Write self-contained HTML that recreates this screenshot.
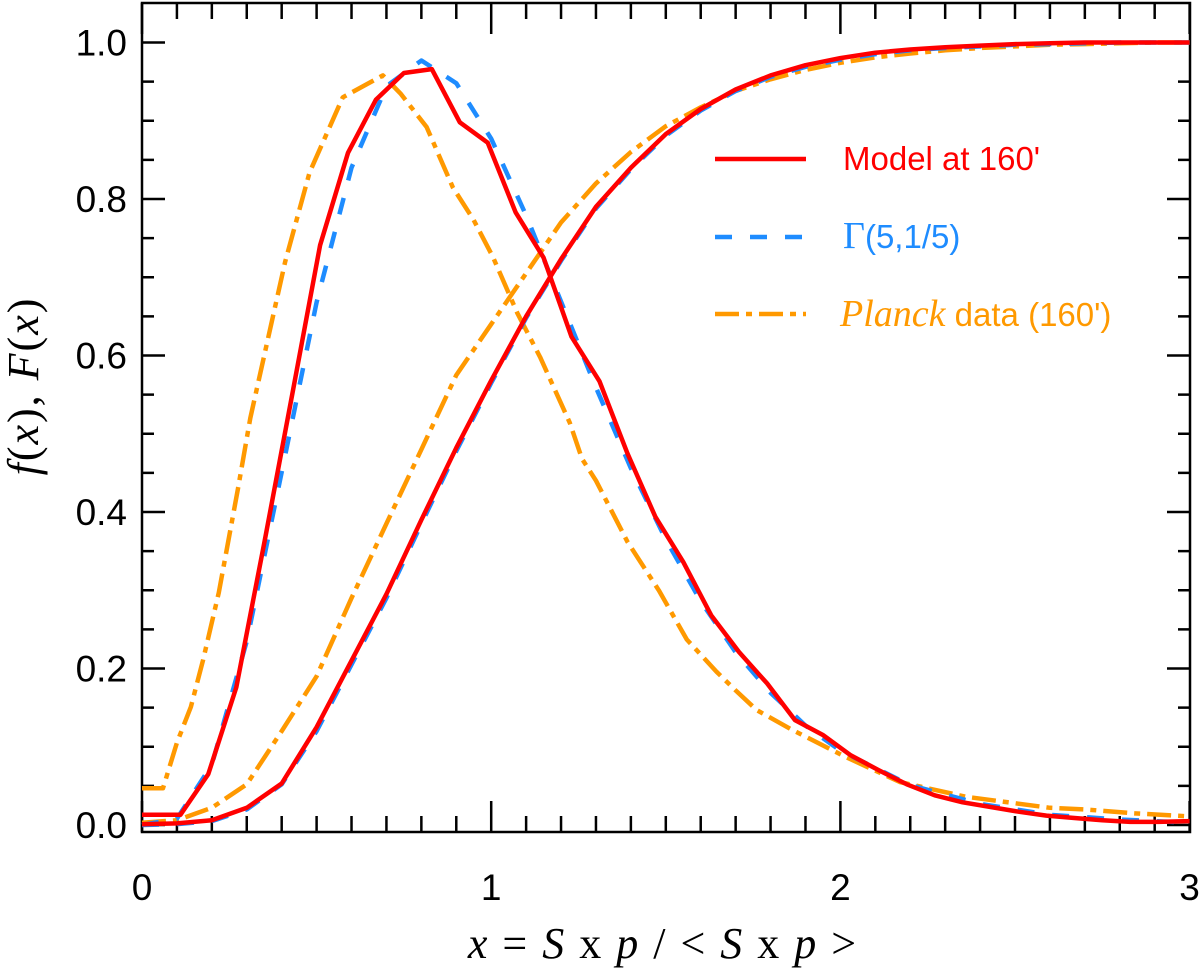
<!DOCTYPE html>
<html><head><meta charset="utf-8"><style>
html,body{margin:0;padding:0;background:#fff;}
svg{display:block;}
</style></head><body>
<svg id="chart" width="1200" height="969" viewBox="0 0 1200 969" xmlns="http://www.w3.org/2000/svg">
<g id="axes"></g>
<g id="series"></g>
<g id="legend">
  <line x1="715" y1="159" x2="806" y2="159" stroke="#ff0000" stroke-width="4.5"/>
  <text x="843" y="170" font-family="Liberation Sans, sans-serif" font-size="33" fill="#ff0000">Model at 160'</text>
  <line x1="715" y1="237" x2="806" y2="237" stroke="#1e8cff" stroke-width="4.5" stroke-dasharray="17,18"/>
  <text x="843" y="248" font-size="33" fill="#1e8cff"><tspan font-family="Liberation Serif, serif" font-size="38">Γ</tspan><tspan font-family="Liberation Sans, sans-serif">(5,1/5)</tspan></text>
  <line x1="715" y1="314" x2="806" y2="314" stroke="#ff9900" stroke-width="4.5" stroke-dasharray="24,7,6,7"/>
  <text x="840" y="326" font-size="33" fill="#ff9900"><tspan font-family="Liberation Serif, serif" font-style="italic" font-size="38">Planck</tspan><tspan font-family="Liberation Sans, sans-serif"> data (160')</tspan></text>
</g>
<text transform="translate(38,386) rotate(-90)" text-anchor="middle" font-family="Liberation Serif, serif" font-size="44" letter-spacing="2" fill="#000"><tspan font-style="italic">f</tspan>(<tspan font-style="italic">x</tspan>), <tspan font-style="italic">F</tspan>(<tspan font-style="italic">x</tspan>)</text>
<text x="663" y="958" text-anchor="middle" font-family="Liberation Serif, serif" font-size="44" letter-spacing="2" fill="#000"><tspan font-style="italic">x</tspan> = <tspan font-style="italic">S</tspan> x <tspan font-style="italic">p</tspan> / &lt; <tspan font-style="italic">S</tspan> x <tspan font-style="italic">p</tspan> &gt;</text>
</svg>
<script>
const xTickLabels = ["0","1","2","3"];
const yTickLabels = ["0.0","0.2","0.4","0.6","0.8","1.0"];
const modelPdfX = [0,0.11,0.19,0.27,0.35,0.43,0.51,0.59,0.67,0.75,0.83,0.91,0.99,1.07,1.15,1.23,1.31,1.39,1.47,1.55,1.63,1.71,1.79,1.87,1.95,2.03,2.11,2.19,2.27,2.35,2.43,2.51,2.59,2.67,2.75,2.83,2.91,3.0];
const modelPdfY = [0.013,0.013,0.065,0.176,0.36,0.55,0.741,0.859,0.927,0.961,0.966,0.898,0.872,0.783,0.725,0.624,0.567,0.475,0.394,0.336,0.268,0.221,0.181,0.134,0.115,0.089,0.070,0.052,0.038,0.029,0.023,0.017,0.012,0.009,0.006,0.004,0.004,0.005];
const cdfX = [0,0.1,0.2,0.3,0.4,0.5,0.6,0.7,0.8,0.9,1.0,1.1,1.2,1.3,1.4,1.5,1.6,1.7,1.8,1.9,2.0,2.1,2.2,2.3,2.4,2.5,2.6,2.7,2.8,2.9,3.0];
const modelCdfY = [0.001,0.002,0.006,0.022,0.053,0.125,0.21,0.295,0.39,0.482,0.568,0.65,0.723,0.79,0.84,0.883,0.915,0.94,0.958,0.971,0.98,0.987,0.991,0.994,0.996,0.998,0.999,1.0,1.0,1.0,1.0];
const gammaCdfY = [0.0,0.001,0.005,0.02,0.052,0.12,0.205,0.29,0.385,0.478,0.565,0.648,0.721,0.788,0.838,0.881,0.913,0.938,0.956,0.969,0.978,0.985,0.99,0.993,0.995,0.997,0.998,0.999,1.0,1.0,1.0];
const planckCdfY = [0.003,0.006,0.022,0.052,0.12,0.19,0.29,0.385,0.48,0.575,0.64,0.705,0.77,0.82,0.86,0.893,0.917,0.938,0.953,0.965,0.974,0.981,0.986,0.99,0.993,0.995,0.997,0.998,0.999,1.0,1.0];
const gammaPdfX = [0,0.1,0.2,0.3,0.4,0.5,0.6,0.7,0.8,0.9,1.0,1.1,1.2,1.3,1.4,1.5,1.6,1.7,1.8,1.9,2.0,2.2,2.4,2.6,2.8,3.0];
const gammaPdfY = [0,0.008,0.077,0.235,0.451,0.668,0.84,0.944,0.977,0.948,0.877,0.779,0.669,0.559,0.456,0.365,0.286,0.221,0.169,0.127,0.095,0.051,0.027,0.013,0.007,0.003];
const planckPdfX = [0,0.06,0.10,0.14,0.175,0.22,0.275,0.31,0.37,0.41,0.48,0.575,0.69,0.74,0.815,0.89,0.95,1.005,1.075,1.14,1.225,1.26,1.30,1.39,1.48,1.56,1.645,1.70,1.76,1.86,2.01,2.17,2.36,2.60,2.70,2.84,3.0];
const planckPdfY = [0.047,0.047,0.105,0.151,0.211,0.297,0.43,0.52,0.64,0.72,0.834,0.93,0.958,0.935,0.892,0.815,0.773,0.726,0.654,0.598,0.514,0.468,0.44,0.362,0.30,0.237,0.196,0.172,0.147,0.122,0.088,0.055,0.036,0.022,0.02,0.015,0.011];

const NS = "http://www.w3.org/2000/svg";
const L = 142, R = 1190, T = 3, B = 832;
function sx(v){ return 142 + v * 349.2; }
function sy(v){ return 825 - v * 782.5; }
const axes = document.getElementById('axes');
const series = document.getElementById('series');
function mk(tag, attrs, parent){
  const e = document.createElementNS(NS, tag);
  for (const k in attrs) e.setAttribute(k, attrs[k]);
  parent.appendChild(e);
  return e;
}
const frame = mk('rect', {x:L, y:T, width:R-L, height:B-T, fill:'none', stroke:'#000', 'stroke-width':2.5}, axes);


for (let i = 0; i <= 30; i++) {
  const v = i / 10, x = sx(v), major = i % 10 === 0, len = major ? 31 : 16;
  const t1 = mk('line', {x1:x, y1:B, x2:x, y2:B-len, stroke:'#000', 'stroke-width':2.5}, axes);
  
  
  const t2 = mk('line', {x1:x, y1:T, x2:x, y2:T+len, stroke:'#000', 'stroke-width':2.5}, axes);
  
  
}
xTickLabels.forEach((s, i) => {
  const t = mk('text', {x:sx(+s), y:900, 'text-anchor':'middle', 'font-family':'Liberation Sans, sans-serif', 'font-size':37, fill:'#000'}, axes);
  t.textContent = s;
  
  
});
for (let i = 0; i <= 21; i++) {
  const v = i * 0.05, y = sy(v); if (y < T + 2) continue;
  const major = i % 4 === 0, len = major ? 23 : 12;
  const t1 = mk('line', {x1:L, y1:y, x2:L+len, y2:y, stroke:'#000', 'stroke-width':2.5}, axes);
  
  
  const t2 = mk('line', {x1:R, y1:y, x2:R-len, y2:y, stroke:'#000', 'stroke-width':2.5}, axes);
  
  
}
yTickLabels.forEach(s => {
  const t = mk('text', {x:127, y:sy(+s)+13, 'text-anchor':'end', 'font-family':'Liberation Sans, sans-serif', 'font-size':37, fill:'#000'}, axes);
  t.textContent = s;
  
  
});
function line(xs, ys, color, dash, name){
  const d = xs.map((x, i) => (i ? 'L' : 'M') + sx(x).toFixed(1) + ',' + sy(ys[i]).toFixed(1)).join(' ');
  const p = mk('path', {d:d, fill:'none', stroke:color, 'stroke-width':4.5, 'stroke-linejoin':'round'}, series);
  if (dash) p.setAttribute('stroke-dasharray', dash);
  
  
}
line(planckPdfX, planckPdfY, '#ff9900', '24,7,6,7', 'planck-pdf-line');
line(cdfX, planckCdfY, '#ff9900', '24,7,6,7', 'planck-cdf-line');
line(gammaPdfX, gammaPdfY, '#1e8cff', '17,18', 'gamma-pdf-line');
line(cdfX, gammaCdfY, '#1e8cff', '17,18', 'gamma-cdf-line');
line(modelPdfX, modelPdfY, '#ff0000', null, 'model-pdf-line');
line(cdfX, modelCdfY, '#ff0000', null, 'model-cdf-line');
</script>
</body></html>
